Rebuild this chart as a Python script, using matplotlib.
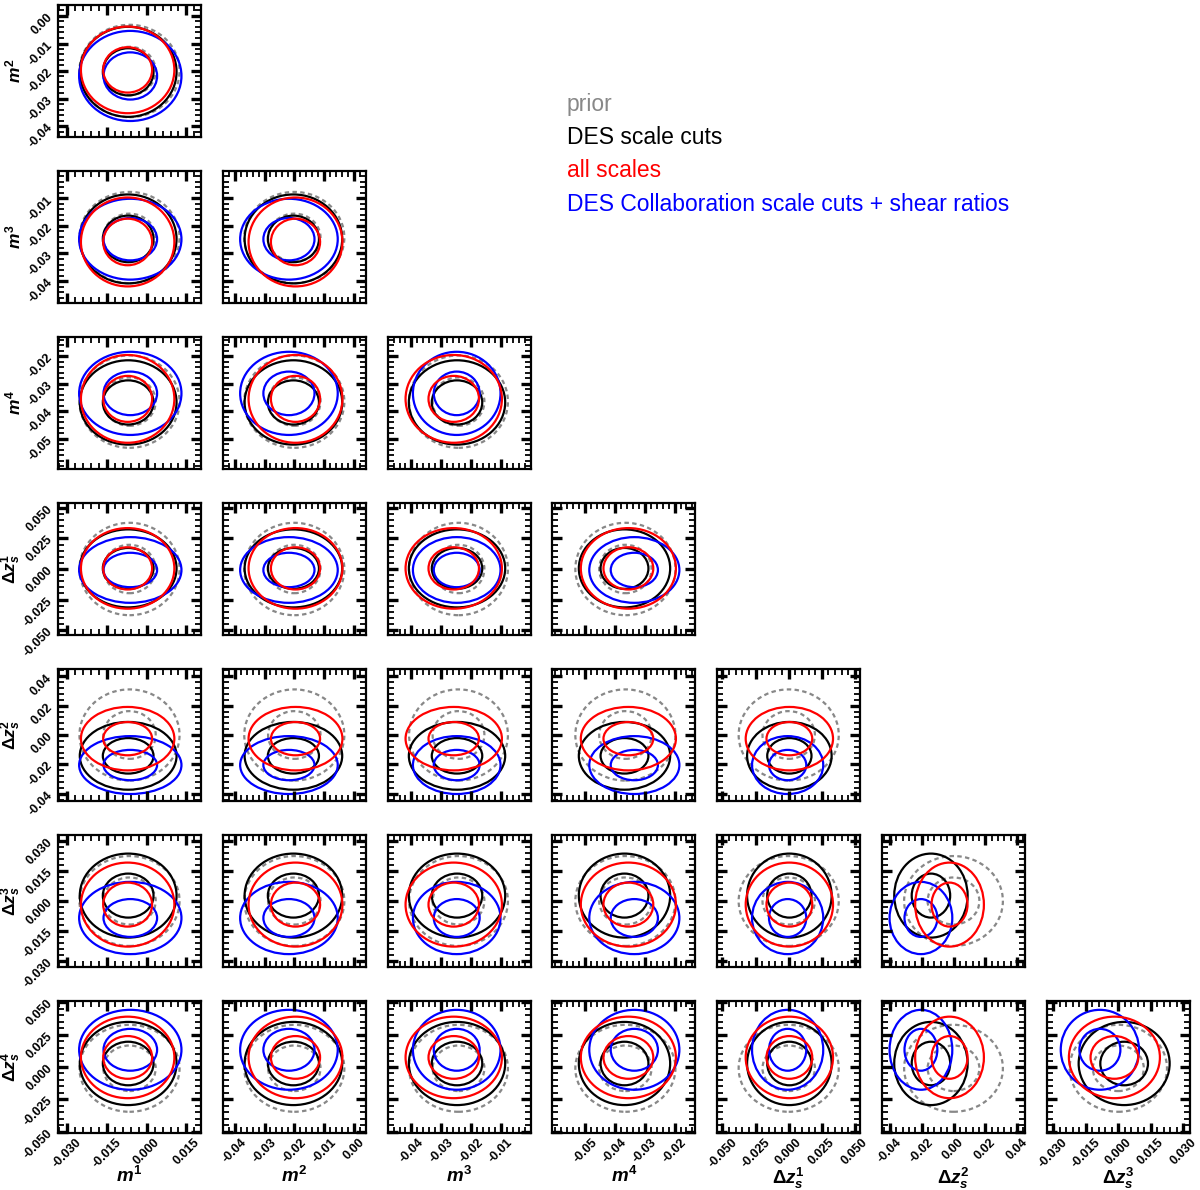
import matplotlib
matplotlib.use('Agg')
import matplotlib.pyplot as plt
from matplotlib.patches import Ellipse
from matplotlib.ticker import FixedLocator, FormatStrFormatter, AutoMinorLocator

# parameter names and axis settings
labels = [r'$m^1$', r'$m^2$', r'$m^3$', r'$m^4$',
          r'$\Delta z_s^1$', r'$\Delta z_s^2$', r'$\Delta z_s^3$', r'$\Delta z_s^4$']
axis_lo = [-0.0335, -0.044, -0.048, -0.061, -0.054, -0.045, -0.033, -0.051]
axis_hi = [0.0205, 0.004, 0.000, -0.013, 0.054, 0.045, 0.033, 0.051]
ticks = [[-0.030, -0.015, 0.000, 0.015],
         [-0.04, -0.03, -0.02, -0.01, 0.00],
         [-0.04, -0.03, -0.02, -0.01],
         [-0.05, -0.04, -0.03, -0.02],
         [-0.050, -0.025, 0.000, 0.025, 0.050],
         [-0.04, -0.02, 0.00, 0.02, 0.04],
         [-0.030, -0.015, 0.000, 0.015, 0.030],
         [-0.050, -0.025, 0.000, 0.025, 0.050]]
tick_fmt = ['%.3f', '%.2f', '%.2f', '%.2f', '%.3f', '%.2f', '%.3f', '%.3f']

# per-chain marginal means and widths
prior_mean = [-0.0065, -0.0200, -0.0242, -0.0365, 0.0000, 0.0000, 0.0000, -0.0010]
prior_sig = [0.0090, 0.0080, 0.0079, 0.0080, 0.0180, 0.0148, 0.0107, 0.0160]
des_mean = [-0.0070, -0.0203, -0.0247, -0.0368, 0.0005, -0.0142, 0.0027, 0.0027]
des_sig = [0.0087, 0.0078, 0.0077, 0.0073, 0.0152, 0.0110, 0.0100, 0.0153]
all_mean = [-0.0072, -0.0196, -0.0258, -0.0355, 0.0005, -0.0025, -0.0018, 0.0074]
all_sig = [0.0084, 0.0075, 0.0077, 0.0076, 0.0157, 0.0103, 0.0100, 0.0150]
collab_mean = [-0.0062, -0.0218, -0.0248, -0.0335, -0.0008, -0.0205, -0.0085, 0.0133]
collab_sig = [0.0092, 0.0078, 0.0070, 0.0072, 0.0128, 0.0094, 0.0086, 0.0147]

chain_names = ['prior', 'DES scale cuts', 'all scales',
               'DES Collaboration scale cuts + shear ratios']
chain_colors = ['#888888', 'black', 'red', 'blue']

plt.rcParams.update({
    'font.family': 'Liberation Sans',
    'font.weight': 'bold',
    'mathtext.fontset': 'custom',
    'mathtext.rm': 'Liberation Sans:bold',
    'mathtext.it': 'Liberation Sans:italic:bold',
    'mathtext.bf': 'Liberation Sans:bold',
    'axes.linewidth': 1.6,
    'axes.unicode_minus': False,
})

chains = [(prior_mean, prior_sig, chain_colors[0], (0, (2.0, 1.5))),
          (des_mean, des_sig, chain_colors[1], '-'),
          (collab_mean, collab_sig, chain_colors[3], '-'),
          (all_mean, all_sig, chain_colors[2], '-')]
levels = [1.1, 2.1]

W, H = 1200, 1190
fig = plt.figure(figsize=(W / 100, H / 100), dpi=100)

n = len(labels)
for r in range(1, n):
    for c in range(r):
        row = r - 1
        left = (58 + c * 164.8) / W
        bottom = 1 - (5 + row * 166 + 132) / H
        ax = fig.add_axes([left, bottom, 143 / W, 132 / H])
        for mean, sig, col, ls in chains:
            for k in levels:
                ax.add_patch(Ellipse((mean[c], mean[r]), 2 * k * sig[c], 2 * k * sig[r],
                                     fill=False, ec=col, lw=1.6, ls=ls))
        ax.set_xlim(axis_lo[c], axis_hi[c])
        ax.set_ylim(axis_lo[r], axis_hi[r])
        ax.xaxis.set_major_locator(FixedLocator(ticks[c]))
        ax.yaxis.set_major_locator(FixedLocator(ticks[r]))
        ax.xaxis.set_minor_locator(AutoMinorLocator(5))
        ax.yaxis.set_minor_locator(AutoMinorLocator(5))
        ax.xaxis.set_major_formatter(FormatStrFormatter(tick_fmt[c]))
        ax.yaxis.set_major_formatter(FormatStrFormatter(tick_fmt[r]))
        ax.tick_params(which='both', direction='in', top=True, right=True,
                       labelbottom=(r == n - 1), labelleft=(c == 0), labelsize=9)
        ax.tick_params(which='major', length=7, width=2.4, pad=2.5)
        ax.tick_params(which='minor', length=4, width=1.3)
        if c == 0:
            ax.set_ylabel(labels[r], fontsize=12.5)
            ax.yaxis.set_label_coords(-0.245, 0.5)
            plt.setp(ax.get_yticklabels(), rotation=45)
        if r == n - 1:
            ax.set_xlabel(labels[c], fontsize=13.5)
            ax.xaxis.set_label_coords(0.5, -0.25)
            plt.setp(ax.get_xticklabels(), rotation=45)

# legend as coloured text
for i, (name, col) in enumerate(zip(chain_names, chain_colors)):
    fig.text(567 / W, 1 - (104 + i * 33.5) / H, name, color=col,
             fontsize=16.5, fontweight='normal', ha='left', va='center')

fig.savefig('out.png', dpi=100)
